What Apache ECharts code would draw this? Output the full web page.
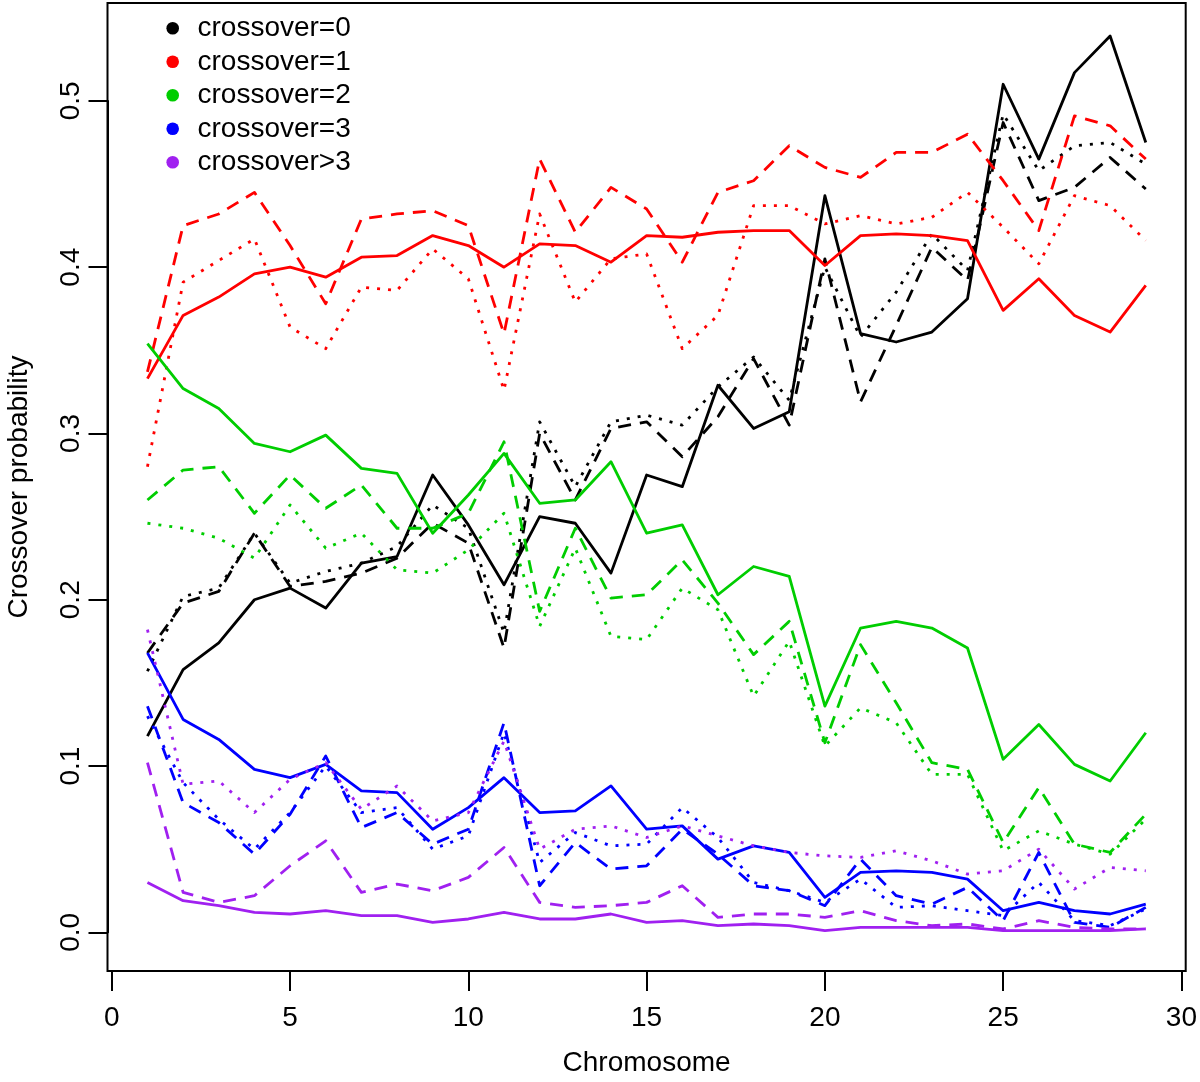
<!DOCTYPE html>
<html>
<head>
<meta charset="utf-8">
<script src="https://cdn.jsdelivr.net/npm/echarts@6/dist/echarts.min.js"></script>
<style>
html,body{margin:0;padding:0;background:#fff;}
#chart{width:1200px;height:1082px;}
</style>
</head>
<body>
<div id="chart"></div>
<script>
// ---------- data ----------
const chromosomes = [1,2,3,4,5,6,7,8,9,10,11,12,13,14,15,16,17,18,19,20,21,22,23,24,25,26,27,28,29];
const legendLabels = ['crossover=0','crossover=1','crossover=2','crossover=3','crossover>3'];
const classColors = ['#000000','#FF0000','#00CD00','#0000FF','#A020F0'];
const xTickStep = 5;
const yTickStep = 0.1;
const xAxisTitle = 'Chromosome';
const yAxisTitle = 'Crossover probability';

// crossover=0
const c0_solid = [0.118,0.158,0.174,0.200,0.207,0.195,0.222,0.226,0.275,0.245,0.209,0.250,0.246,0.216,0.275,0.268,0.329,0.303,0.313,0.443,0.360,0.355,0.361,0.381,0.510,0.465,0.517,0.539,0.475];
const c0_dash  = [0.168,0.198,0.205,0.240,0.208,0.211,0.216,0.225,0.246,0.234,0.171,0.300,0.260,0.303,0.307,0.286,0.310,0.345,0.305,0.405,0.319,0.365,0.412,0.392,0.487,0.440,0.448,0.466,0.447];
const c0_dot   = [0.157,0.202,0.207,0.240,0.210,0.217,0.222,0.232,0.257,0.243,0.180,0.307,0.268,0.307,0.311,0.305,0.328,0.346,0.320,0.400,0.358,0.385,0.420,0.398,0.492,0.458,0.473,0.475,0.462];
// crossover=1
const c1_solid = [0.333,0.371,0.382,0.396,0.400,0.394,0.406,0.407,0.419,0.413,0.400,0.414,0.413,0.403,0.419,0.418,0.421,0.422,0.422,0.401,0.419,0.420,0.419,0.416,0.374,0.393,0.371,0.361,0.389];
const c1_dash  = [0.337,0.425,0.432,0.445,0.413,0.378,0.429,0.432,0.434,0.425,0.360,0.465,0.421,0.448,0.435,0.403,0.445,0.452,0.473,0.460,0.454,0.469,0.469,0.480,0.452,0.422,0.491,0.485,0.465];
const c1_dot   = [0.280,0.391,0.404,0.417,0.364,0.351,0.388,0.386,0.411,0.393,0.326,0.432,0.379,0.405,0.408,0.351,0.371,0.437,0.437,0.426,0.431,0.426,0.430,0.445,0.424,0.402,0.443,0.437,0.416];
// crossover=2
const c2_solid = [0.354,0.327,0.315,0.294,0.289,0.299,0.279,0.276,0.240,0.263,0.288,0.258,0.260,0.283,0.240,0.245,0.203,0.220,0.214,0.136,0.183,0.187,0.183,0.171,0.104,0.125,0.101,0.091,0.120];
const c2_dash  = [0.260,0.278,0.280,0.252,0.275,0.255,0.269,0.243,0.243,0.252,0.295,0.193,0.243,0.201,0.203,0.224,0.198,0.167,0.187,0.114,0.173,0.138,0.102,0.098,0.054,0.087,0.053,0.048,0.071];
const c2_dot   = [0.246,0.243,0.237,0.225,0.257,0.231,0.240,0.218,0.216,0.230,0.252,0.184,0.231,0.178,0.176,0.207,0.194,0.142,0.175,0.112,0.135,0.126,0.095,0.095,0.049,0.061,0.053,0.047,0.068];
// crossover=3
const c3_solid = [0.168,0.128,0.116,0.098,0.093,0.101,0.085,0.084,0.062,0.075,0.093,0.072,0.073,0.088,0.062,0.064,0.044,0.052,0.048,0.021,0.036,0.037,0.036,0.032,0.013,0.018,0.013,0.011,0.017];
const c3_dash  = [0.136,0.078,0.066,0.047,0.071,0.106,0.063,0.072,0.053,0.062,0.126,0.028,0.054,0.038,0.040,0.062,0.047,0.028,0.025,0.016,0.044,0.022,0.017,0.027,0.007,0.048,0.006,0.003,0.015];
const c3_dot   = [0.130,0.090,0.068,0.050,0.072,0.100,0.072,0.075,0.050,0.058,0.120,0.042,0.060,0.052,0.053,0.075,0.057,0.030,0.025,0.018,0.032,0.015,0.016,0.013,0.010,0.030,0.007,0.004,0.014];
// crossover>3
const c4_solid = [0.030,0.019,0.016,0.012,0.011,0.013,0.010,0.010,0.006,0.008,0.012,0.008,0.008,0.011,0.006,0.007,0.004,0.005,0.004,0.001,0.003,0.003,0.003,0.003,0.001,0.001,0.001,0.001,0.002];
const c4_dash  = [0.102,0.024,0.018,0.022,0.040,0.055,0.024,0.029,0.025,0.033,0.051,0.018,0.015,0.016,0.018,0.028,0.009,0.011,0.011,0.009,0.013,0.007,0.004,0.005,0.002,0.007,0.003,0.002,0.002];
const c4_dot   = [0.182,0.089,0.091,0.072,0.092,0.102,0.074,0.088,0.067,0.072,0.115,0.050,0.062,0.064,0.057,0.064,0.058,0.052,0.048,0.046,0.045,0.049,0.043,0.035,0.037,0.050,0.026,0.039,0.037];

const classSeries = [
  [c0_solid, c0_dash, c0_dot],
  [c1_solid, c1_dash, c1_dot],
  [c2_solid, c2_dash, c2_dot],
  [c3_solid, c3_dash, c3_dot],
  [c4_solid, c4_dash, c4_dot]
];

// ---------- styles ----------
const FONT = '"Liberation Sans", Arial, Helvetica, sans-serif';
const lineTypes = ['solid', [13, 9], [3, 8]];
const LW = 2.8;

const series = [];
classSeries.forEach((group, k) => {
  group.forEach((vals, s) => {
    series.push({
      name: legendLabels[k],
      type: 'line',
      data: chromosomes.map((c, i) => [c, vals[i]]),
      showSymbol: false,
      symbol: 'none',
      clip: false,
      silent: true,
      animation: false,
      lineStyle: { color: classColors[k], width: LW, type: lineTypes[s], cap: 'butt', join: 'round' },
      itemStyle: { color: classColors[k] }
    });
  });
});

// plot box (R style) and layout
const box = { x0: 107.5, y0: 3, x1: 1185.7, y1: 971 };

const graphics = [
  { type: 'rect', shape: { x: box.x0, y: box.y0, width: box.x1 - box.x0, height: box.y1 - box.y0 },
    style: { fill: 'none', stroke: '#000', lineWidth: 2 }, z: 10, silent: true },
  { type: 'text', x: (box.x0 + box.x1) / 2, y: 1063,
    style: { text: xAxisTitle, font: '28px ' + FONT, fill: '#000', textAlign: 'center', textVerticalAlign: 'middle' } },
  { type: 'text', x: 19, y: (box.y0 + box.y1) / 2, rotation: Math.PI / 2,
    style: { text: yAxisTitle, font: '28px ' + FONT, fill: '#000', textAlign: 'center', textVerticalAlign: 'middle' } }
];
legendLabels.forEach((lab, k) => {
  const cy = 28.3 + k * 33.5;
  graphics.push({ type: 'circle', shape: { cx: 172.7, cy: cy, r: 6.3 }, style: { fill: classColors[k] }, z: 20 });
  graphics.push({ type: 'text', x: 197.5, y: cy,
    style: { text: lab, font: '28px ' + FONT, fill: '#000', textAlign: 'left', textVerticalAlign: 'middle' }, z: 20 });
});

const chart = echarts.init(document.getElementById('chart'), null, { renderer: 'canvas' });
chart.setOption({
  animation: false,
  backgroundColor: '#fff',
  grid: { left: 111.8, right: 18, top: 100.9, bottom: 149.7, containLabel: false },
  xAxis: {
    type: 'value', min: 0, max: 30, interval: xTickStep,
    offset: 38.7,
    axisLine: { show: true, onZero: false, lineStyle: { color: '#000', width: 2 } },
    axisTick: { show: true, length: 20, lineStyle: { color: '#000', width: 2 } },
    axisLabel: { show: true, margin: 33, color: '#000', fontSize: 28, fontFamily: FONT },
    splitLine: { show: false }
  },
  yAxis: {
    type: 'value', min: 0, max: 0.5, interval: yTickStep,
    offset: 4.3,
    axisLine: { show: true, onZero: false, lineStyle: { color: '#000', width: 2 } },
    axisTick: { show: true, length: 19, lineStyle: { color: '#000', width: 2 } },
    axisLabel: { show: true, rotate: 90, margin: 22, color: '#000', fontSize: 28, fontFamily: FONT,
      formatter: v => v.toFixed(1) },
    splitLine: { show: false }
  },
  series: series,
  graphic: graphics
});
</script>
</body>
</html>
